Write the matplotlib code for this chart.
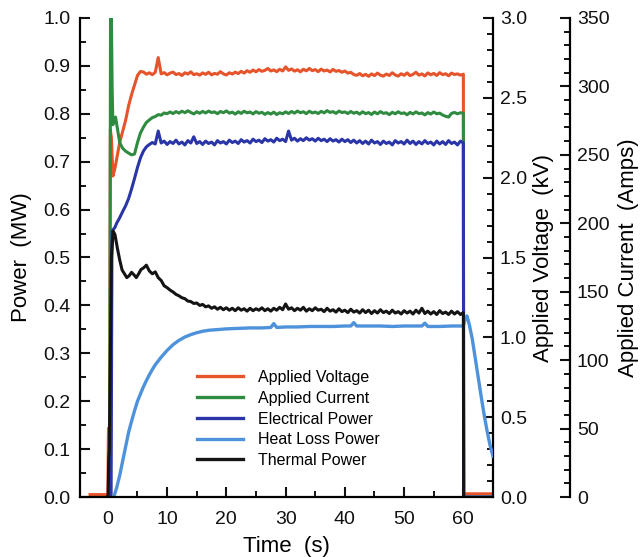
import numpy as np
import matplotlib
matplotlib.use("Agg")
import matplotlib.pyplot as plt
from matplotlib.ticker import MultipleLocator, FormatStrFormatter

plt.rcParams['font.family'] = ['Liberation Sans', 'DejaVu Sans']

# ---------------------------------------------------------------- data
# Steady-run samples every 0.5 s from 6 s to 60 s
t_run = np.arange(6.0, 60.001, 0.5)

# Applied voltage (kV)
volt_t_start = [-3.0, -0.1, 0.0, 0.1, 0.3, 0.42, 0.6, 0.85, 1.2, 1.5, 2.0, 2.5, 3.0, 3.5, 4.0, 4.5, 5.0, 5.5]
volt_start = [0.015, 0.015, 0.02, 0.43, 0.44, 2.30, 2.25, 2.01, 2.06, 2.12, 2.22, 2.29, 2.36, 2.45, 2.52, 2.58, 2.64, 2.665]
volt_run = [
    2.662, 2.648, 2.657, 2.645, 2.660, 2.752, 2.650, 2.658, 2.644, 2.655,
    2.661, 2.646, 2.652, 2.640, 2.657, 2.649, 2.663, 2.645, 2.651, 2.642,
    2.656, 2.647, 2.660, 2.644, 2.653, 2.648, 2.664, 2.650, 2.643, 2.657,
    2.649, 2.661, 2.652, 2.666, 2.655, 2.670, 2.660, 2.674, 2.663, 2.677,
    2.666, 2.672, 2.684, 2.668, 2.675, 2.664, 2.679, 2.668, 2.694, 2.672,
    2.681, 2.667, 2.676, 2.663, 2.679, 2.669, 2.684, 2.670, 2.677, 2.664,
    2.680, 2.668, 2.674, 2.662, 2.678, 2.666, 2.671, 2.660, 2.668, 2.655,
    2.660, 2.646, 2.641, 2.652, 2.638, 2.647, 2.635, 2.650, 2.639, 2.655,
    2.642, 2.636, 2.649, 2.640, 2.657, 2.643, 2.636, 2.651, 2.641, 2.656,
    2.639, 2.647, 2.660, 2.642, 2.650, 2.637, 2.656, 2.644, 2.653, 2.640,
    2.658, 2.645, 2.651, 2.638, 2.655, 2.646, 2.650, 2.642, 2.648]
volt_t_end = [60.05, 65.0]
volt_end = [0.02, 0.02]

# Applied current (A)
curr_t_start = [0.3, 0.45, 0.6, 0.72, 0.85, 1.0, 1.3, 1.6, 2.0, 2.5, 3.0, 3.5, 4.0, 4.5, 5.0, 5.5]
curr_start = [0.0, 350.0, 350.0, 300.0, 272.0, 276.0, 277.6, 269.5, 259.0, 254.8, 252.7, 251.3, 250.0, 250.6, 259.0, 266.0]
curr_run = [
    270.2, 273.7, 275.5, 277.2, 278.0, 279.4, 279.0, 280.6, 280.1, 281.3,
    280.2, 281.6, 280.5, 281.9, 280.8, 282.2, 281.0, 279.9, 281.5, 280.4,
    281.8, 280.6, 282.0, 280.9, 281.4, 280.1, 281.7, 280.8, 282.1, 280.5,
    281.2, 279.8, 281.5, 280.3, 281.9, 280.7, 281.3, 279.9, 281.6, 280.4,
    281.1, 279.6, 280.9, 279.8, 281.2, 279.5, 280.8, 280.0, 281.4, 280.2,
    281.7, 280.5, 282.0, 280.8, 281.5, 280.1, 281.9, 280.6, 281.3, 280.2,
    281.8, 280.7, 282.3, 281.0, 281.6, 280.3, 282.0, 280.9, 281.4, 280.2,
    281.7, 280.4, 281.2, 279.8, 281.5, 280.1, 280.9, 279.5, 281.3, 280.0,
    281.6, 280.3, 280.8, 279.4, 281.1, 280.0, 281.5, 280.2, 280.7, 279.3,
    281.0, 279.9, 281.4, 280.1, 280.6, 279.2, 280.9, 279.8, 281.3, 280.0,
    280.5, 279.1, 278.2, 277.6, 280.3, 281.0, 280.0, 280.8, 280.4]
curr_t_end = [60.05, 65.0]
curr_end = [0.0, 0.0]

# Electrical power (MW)
elec_t_start = [0.55, 0.7, 1.2, 1.5, 2.0, 2.5, 3.0, 3.5, 4.0, 4.5, 5.0, 5.5]
elec_start = [0.0, 0.555, 0.563, 0.572, 0.583, 0.596, 0.608, 0.623, 0.643, 0.665, 0.688, 0.708]
elec_run = [
    0.722, 0.731, 0.736, 0.740, 0.737, 0.764, 0.739, 0.743, 0.736, 0.742,
    0.738, 0.745, 0.737, 0.741, 0.735, 0.744, 0.739, 0.752, 0.738, 0.742,
    0.736, 0.743, 0.738, 0.741, 0.735, 0.744, 0.739, 0.742, 0.737, 0.745,
    0.740, 0.743, 0.738, 0.746, 0.741, 0.744, 0.739, 0.747, 0.742, 0.745,
    0.740, 0.748, 0.743, 0.746, 0.741, 0.749, 0.744, 0.747, 0.742, 0.764,
    0.745, 0.749, 0.743, 0.748, 0.744, 0.750, 0.745, 0.748, 0.743, 0.749,
    0.744, 0.747, 0.742, 0.748, 0.743, 0.746, 0.741, 0.747, 0.742, 0.746,
    0.740, 0.745, 0.739, 0.744, 0.738, 0.743, 0.737, 0.745, 0.739, 0.742,
    0.736, 0.743, 0.738, 0.741, 0.735, 0.744, 0.739, 0.742, 0.737, 0.745,
    0.738, 0.743, 0.736, 0.742, 0.737, 0.744, 0.738, 0.741, 0.735, 0.743,
    0.737, 0.742, 0.736, 0.744, 0.738, 0.741, 0.735, 0.743, 0.739]
elec_t_end = [60.05, 65.0]
elec_end = [0.0, 0.0]

# Heat loss power (MW)
heat_t = [1.0, 1.5, 2.0, 2.5, 3.0, 3.5, 4.0, 4.5, 5.0, 5.5, 6.0, 6.5, 7.0, 7.5, 8.0, 9.0,
          10.0, 11.0, 12.0, 13.0, 14.0, 15.0, 16.0, 17.0, 18.0, 20.0, 22.0, 24.0, 26.0,
          27.5, 28.0, 28.5, 30.0, 32.0, 34.0, 36.0, 38.0, 40.0, 41.0, 41.5, 42.0, 44.0,
          46.0, 48.0, 50.0, 52.0, 53.0, 53.5, 54.0, 56.0, 58.0, 60.0, 60.3, 60.6, 61.0,
          61.5, 62.0, 62.5, 63.0, 63.5, 64.0, 64.5, 65.0]
heat = [0.0, 0.02, 0.045, 0.075, 0.105, 0.135, 0.158, 0.180, 0.200, 0.215, 0.230, 0.243,
        0.255, 0.266, 0.276, 0.292, 0.306, 0.318, 0.327, 0.334, 0.339, 0.343, 0.346, 0.348,
        0.349, 0.351, 0.352, 0.353, 0.353, 0.354, 0.362, 0.354, 0.355, 0.355, 0.356, 0.356,
        0.356, 0.357, 0.357, 0.364, 0.357, 0.357, 0.357, 0.356, 0.357, 0.357, 0.357, 0.363,
        0.356, 0.356, 0.357, 0.357, 0.372, 0.378, 0.360, 0.330, 0.290, 0.250, 0.210, 0.172,
        0.138, 0.108, 0.085]

# Thermal power (MW)
therm_t_start = [-0.05, 0.05, 0.15, 0.25, 0.6, 0.9, 1.2, 1.6, 2.0, 2.4, 2.8, 3.2, 3.6, 4.0, 4.4, 4.8, 5.2, 5.6]
therm_start = [0.0, 0.0, 0.08, 0.10, 0.50, 0.555, 0.548, 0.520, 0.495, 0.474, 0.466, 0.458, 0.462, 0.469, 0.464, 0.458, 0.466, 0.475]
therm_run = [
    0.478, 0.484, 0.472, 0.466, 0.470, 0.458, 0.452, 0.441, 0.437, 0.432,
    0.428, 0.423, 0.420, 0.416, 0.414, 0.409, 0.408, 0.404, 0.405, 0.400,
    0.402, 0.397, 0.399, 0.394, 0.397, 0.392, 0.396, 0.391, 0.395, 0.390,
    0.394, 0.389, 0.395, 0.390, 0.393, 0.388, 0.394, 0.389, 0.393, 0.390,
    0.395, 0.389, 0.393, 0.388, 0.394, 0.390, 0.396, 0.391, 0.403, 0.392,
    0.395, 0.389, 0.394, 0.390, 0.396, 0.388, 0.393, 0.389, 0.395, 0.390,
    0.392, 0.387, 0.394, 0.388, 0.391, 0.386, 0.393, 0.387, 0.390, 0.385,
    0.392, 0.386, 0.389, 0.384, 0.391, 0.385, 0.390, 0.383, 0.389, 0.384,
    0.391, 0.385, 0.388, 0.383, 0.390, 0.384, 0.387, 0.382, 0.389, 0.384,
    0.388, 0.382, 0.390, 0.384, 0.394, 0.383, 0.388, 0.382, 0.387, 0.381,
    0.389, 0.383, 0.386, 0.381, 0.388, 0.382, 0.387, 0.381, 0.385]
therm_t_end = [60.05]
therm_end = [0.0]

labels = ["Applied Voltage", "Applied Current", "Electrical Power", "Heat Loss Power", "Thermal Power"]
colors = ["#E5542B", "#2E8B3F", "#2A36A8", "#4D92DA", "#141414"]


def join(t0, v0, v_run, t1, v1):
    return (np.concatenate([t0, t_run, t1]), np.concatenate([v0, v_run, v1]))


# ---------------------------------------------------------------- figure
fig = plt.figure(figsize=(6.41, 5.57), dpi=100)
ax = fig.add_axes([80 / 641, 1 - 497 / 557, 413 / 641, 479 / 557])
axv = ax.twinx()
axi = ax.twinx()

# power traces drawn above the voltage / current traces
ax.set_zorder(axi.get_zorder() + 2)
ax.patch.set_visible(False)

lw = 2.2
tv, vv = join(volt_t_start, volt_start, volt_run, volt_t_end, volt_end)
ti, ii = join(curr_t_start, curr_start, curr_run, curr_t_end, curr_end)
te, ee = join(elec_t_start, elec_start, elec_run, elec_t_end, elec_end)
tt, th = join(therm_t_start, therm_start, therm_run, therm_t_end, therm_end)

lv, = axv.plot(tv, vv, color=colors[0], lw=lw)
li, = axi.plot(ti, ii, color=colors[1], lw=lw)
le, = ax.plot(te, ee, color=colors[2], lw=lw)
lh, = ax.plot(heat_t, heat, color=colors[3], lw=lw + 0.2)
lt, = ax.plot(tt, th, color=colors[4], lw=lw)

ax.set_xlim(-4.7, 65)
ax.set_ylim(0, 1.0)
axv.set_ylim(0, 3.0)
axi.set_ylim(0, 350)

# spines
spine_w = 1.6
for s in ["top", "right"]:
    ax.spines[s].set_visible(False)
for s in ["left", "bottom"]:
    ax.spines[s].set_linewidth(spine_w)
for s in ["top", "left", "bottom"]:
    axv.spines[s].set_visible(False)
    axi.spines[s].set_visible(False)
axv.spines["right"].set_linewidth(spine_w)
axi.spines["right"].set_linewidth(spine_w)
axi.spines["right"].set_position(("outward", 77 * 0.72))

# ticks
tick_kw = dict(direction="in", width=1.5, labelsize=14, colors="#111111")
ax.tick_params(axis="both", which="major", length=7.5, pad=7, **tick_kw)
ax.tick_params(axis="both", which="minor", length=4, direction="in", width=1.3)
ax.tick_params(axis="x", pad=10)
ax.xaxis.set_major_locator(MultipleLocator(10))
ax.xaxis.set_minor_locator(MultipleLocator(5))
ax.yaxis.set_major_locator(MultipleLocator(0.1))
ax.yaxis.set_minor_locator(MultipleLocator(0.05))
ax.yaxis.set_major_formatter(FormatStrFormatter("%.1f"))

for a, maj, mnr, fmt in [(axv, 0.5, 0.1, "%.1f"), (axi, 50, 10, "%d")]:
    a.tick_params(axis="y", which="major", length=7.5, pad=5, **tick_kw)
    a.tick_params(axis="y", which="minor", length=4, direction="in", width=1.3)
    a.yaxis.set_major_locator(MultipleLocator(maj))
    a.yaxis.set_minor_locator(MultipleLocator(mnr))
    a.yaxis.set_major_formatter(FormatStrFormatter(fmt))

# labels
ax.set_xlabel("Time  (s)", fontsize=16, labelpad=6)
ax.set_ylabel("Power  (MW)", fontsize=16, labelpad=8)
axv.set_ylabel("Applied Voltage  (kV)", fontsize=16, labelpad=4)
axi.set_ylabel("Applied Current  (Amps)", fontsize=16, labelpad=6)

leg = ax.legend([lv, li, le, lh, lt], labels, loc="upper left",
                bbox_to_anchor=(0.283, 0.265), frameon=False, fontsize=11.5,
                handlelength=2.9, handletextpad=0.9, labelspacing=0.36,
                borderpad=0, borderaxespad=0)
for h in leg.get_lines():
    h.set_linewidth(2.4)

fig.savefig("out.png", dpi=100, facecolor="white")
